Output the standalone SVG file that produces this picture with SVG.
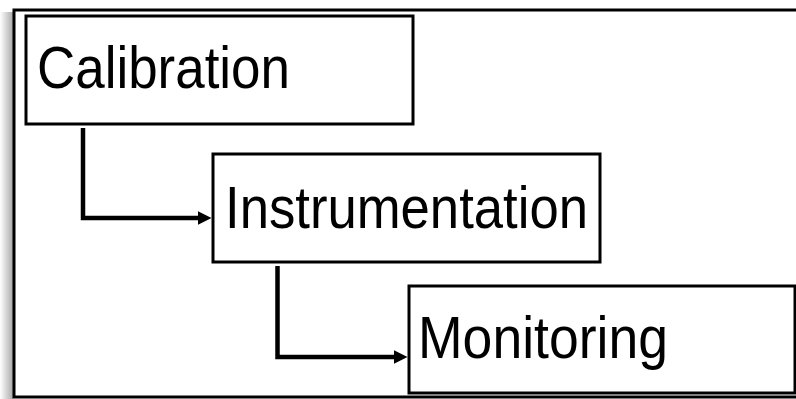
<svg xmlns="http://www.w3.org/2000/svg" width="796" height="399" viewBox="0 0 796 399">
<style>
.box{fill:#fff;stroke:#000;stroke-width:3}
.lbl{font-family:"Liberation Sans","DejaVu Sans",sans-serif;font-size:59px;fill:#000}
.conn{fill:none;stroke:#000;stroke-width:4.5}
</style>
<defs>
<linearGradient id="sh" x1="0" y1="0" x2="1" y2="0">
<stop offset="0" stop-color="#fff"/>
<stop offset="1" stop-color="#aaa"/>
</linearGradient>
<marker id="ah" markerWidth="3" markerHeight="3" refX="0" refY="1.5" orient="auto" markerUnits="strokeWidth">
<path d="M0,0 L3,1.5 L0,3 Z" fill="#000"/>
</marker>
</defs>
<rect x="0" y="12" width="13" height="387" fill="url(#sh)"/>
<rect x="14" y="10" width="800" height="387" fill="#fff" stroke="#000" stroke-width="3"/>
<g id="calibration">
<rect class="box" x="26" y="16" width="387" height="108"/>
<text class="lbl" x="37" y="88" textLength="253" lengthAdjust="spacingAndGlyphs">Calibration</text>
</g>
<g id="instrumentation">
<rect class="box" x="213" y="154" width="387" height="108"/>
<text class="lbl" x="225" y="228" textLength="363" lengthAdjust="spacingAndGlyphs">Instrumentation</text>
</g>
<g id="monitoring">
<rect class="box" x="409" y="286" width="386" height="107"/>
<text class="lbl" x="418" y="358" textLength="250" lengthAdjust="spacingAndGlyphs">Monitoring</text>
</g>
<g id="connectors">
<path class="conn" d="M83,128 V218 H198" marker-end="url(#ah)"/>
<path class="conn" d="M277.5,266 V357 H394" marker-end="url(#ah)"/>
</g>
</svg>
